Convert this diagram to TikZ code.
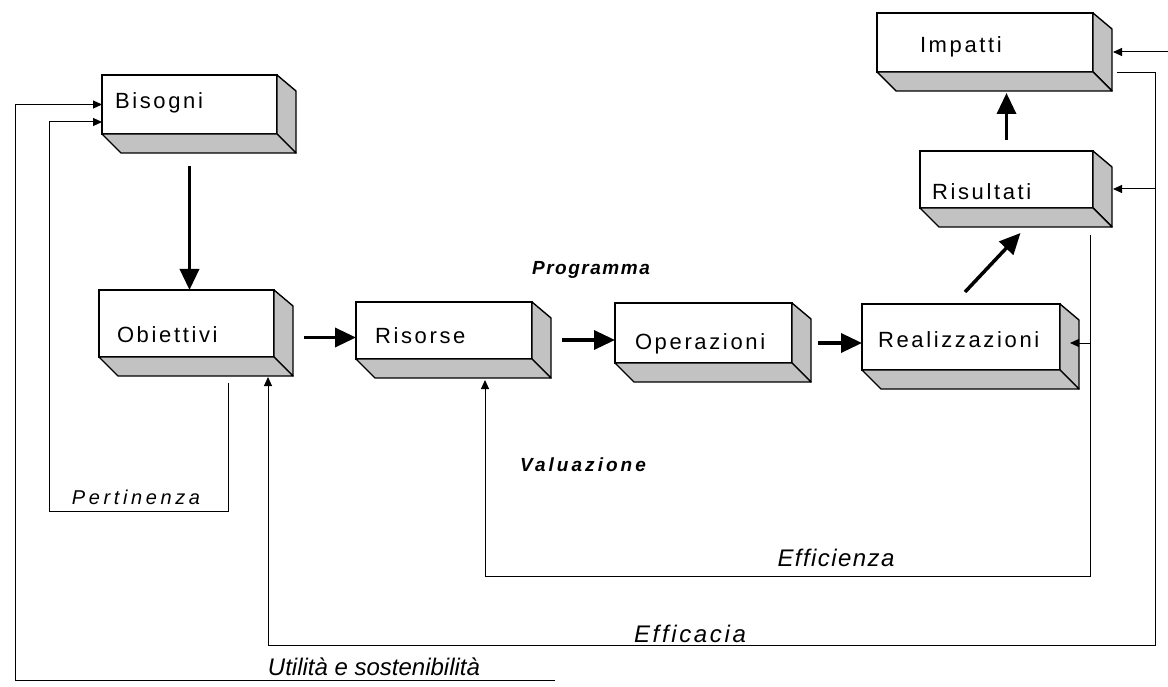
\documentclass[tikz,border=0pt]{standalone}
\usepackage{fontspec}
\setmainfont{Liberation Sans}
\usetikzlibrary{arrows.meta}

\begin{document}
\begin{tikzpicture}[x=1pt, y=1pt,
  blocco/.style={draw, line width=1.4pt, fill=white, anchor=north west, outer sep=0pt,
    inner ysep=0pt, text depth=0pt, align=left, font=\fontsize{22}{24}\selectfont\addfontfeatures{LetterSpace=12}},
  faccia/.style={draw, line width=1.4pt, fill=black!24, line join=round},
  flusso/.style={line width=3.5pt, -{Triangle[length=21pt,width=19pt]}},
  ritorno/.style={line width=1pt, -{Triangle[length=9pt,width=8pt]}},
  etichetta/.style 2 args={font=\fontsize{#1}{24}\selectfont\itshape\addfontfeatures{LetterSpace=#2}},
  titolo/.style 2 args={font=\fontsize{#1}{24}\selectfont\bfseries\itshape\addfontfeatures{LetterSpace=#2}}]
\useasboundingbox (0,0) rectangle (1168,-687);
% blocchi
\node[blocco, minimum height=59pt, inner xsep=13pt, text width=149pt, text height=9pt] (bis) at (102,-75) {Bisogni};
\node[blocco, minimum height=67pt, inner xsep=18pt, text width=139pt, text height=37pt] (obi) at (99,-290) {Obiettivi};
\node[blocco, minimum height=57pt, inner xsep=19pt, text width=138pt, text height=25pt] (ris) at (356,-302) {Risorse};
\node[blocco, minimum height=60pt, inner xsep=20pt, text width=137pt, text height=32pt] (ope) at (615,-303) {Operazioni};
\node[blocco, minimum height=66pt, inner xsep=16pt, text width=166pt, text height=20pt] (rea) at (862,-304) {Realizzazioni};
\node[blocco, minimum height=57pt, inner xsep=12pt, text width=149pt, text height=41pt] (rsl) at (920,-151) {Risultati};
\node[blocco, minimum height=59pt, inner xsep=43pt, text width=130pt, text height=21pt] (imp) at (877,-13) {Impatti};
\foreach \n in {bis,obi,ris,ope,rea,rsl,imp} {
  \path[faccia] (\n.north east) -- ++(19,-16) -- ([shift={(19,-19)}]\n.south east) -- (\n.south east) -- cycle;
  \path[faccia] (\n.south west) -- ++(19,-19) -- ([shift={(19,-19)}]\n.south east) -- (\n.south east) -- cycle;
}
% frecce del programma
\draw[flusso, shorten <=32pt] (bis.south) -- (bis.south |- obi.north);
\draw[flusso, shorten <=30pt] ([yshift=-7]ris.west -| obi.east) -- ([yshift=-7]ris.west);
\draw[flusso, shorten <=30pt] ([yshift=-7]ope.west -| ris.east) -- ([yshift=-7]ope.west);
\draw[flusso, shorten <=26pt] ([yshift=-6]rea.west -| ope.east) -- ([yshift=-6]rea.west);
\draw[flusso] ([xshift=4,yshift=12]rea.north) -- ([xshift=14,yshift=-25]rsl.south);
\draw[flusso, shorten <=11pt, shorten >=21pt] (rsl.north) -- (rsl.north |- imp.south);
% anelli di valutazione
\coordinate (per) at (49,-511);
\coordinate (eff) at (1090,-576);
\coordinate (efc) at (1155,-645);
\coordinate (uti) at (15,-680);
\coordinate (utiFine) at (555,-680);
\coordinate (utiInizio) at (1168,-52);
\draw[ritorno] ([xshift=41.5,yshift=-26]obi.south) |- (per) |- ([yshift=-17.5]bis.west);
\draw[ritorno] ([xshift=83.5,yshift=-27]rsl.south) -- (eff) -| ([xshift=41,yshift=-21]ris.south);
\draw[ritorno] ([yshift=-6]rea.east -| eff) -- ([xshift=10,yshift=-6]rea.east);
\draw[ritorno] ([xshift=24,yshift=-30.5]imp.east) -| (efc) -| ([xshift=81.5,yshift=-20]obi.south);
\draw[ritorno] ([yshift=-9.5]rsl.east -| efc) -- ([xshift=20,yshift=-9.5]rsl.east);
\draw[ritorno] (utiFine) -- (uti) |- (bis.west);
\draw[ritorno] (utiInizio) -- ([xshift=20,yshift=-9.5]imp.east);
% etichette
\node[titolo={19}{8}] (prog) at (591,-270) {Programma};
\node[titolo={19}{16}] (valu) at (583,-465) {Valuazione};
\node[etichetta={20}{18}] (lper) at (136,-497) {Pertinenza};
\node[etichetta={24}{6}] (leff) at (836,-558) {Efficienza};
\node[etichetta={24}{11}] (lefc) at (690,-634) {Efficacia};
\node[etichetta={24}{0}] (luti) at (374,-667) {Utilità e sostenibilità};
\end{tikzpicture}
\end{document}
